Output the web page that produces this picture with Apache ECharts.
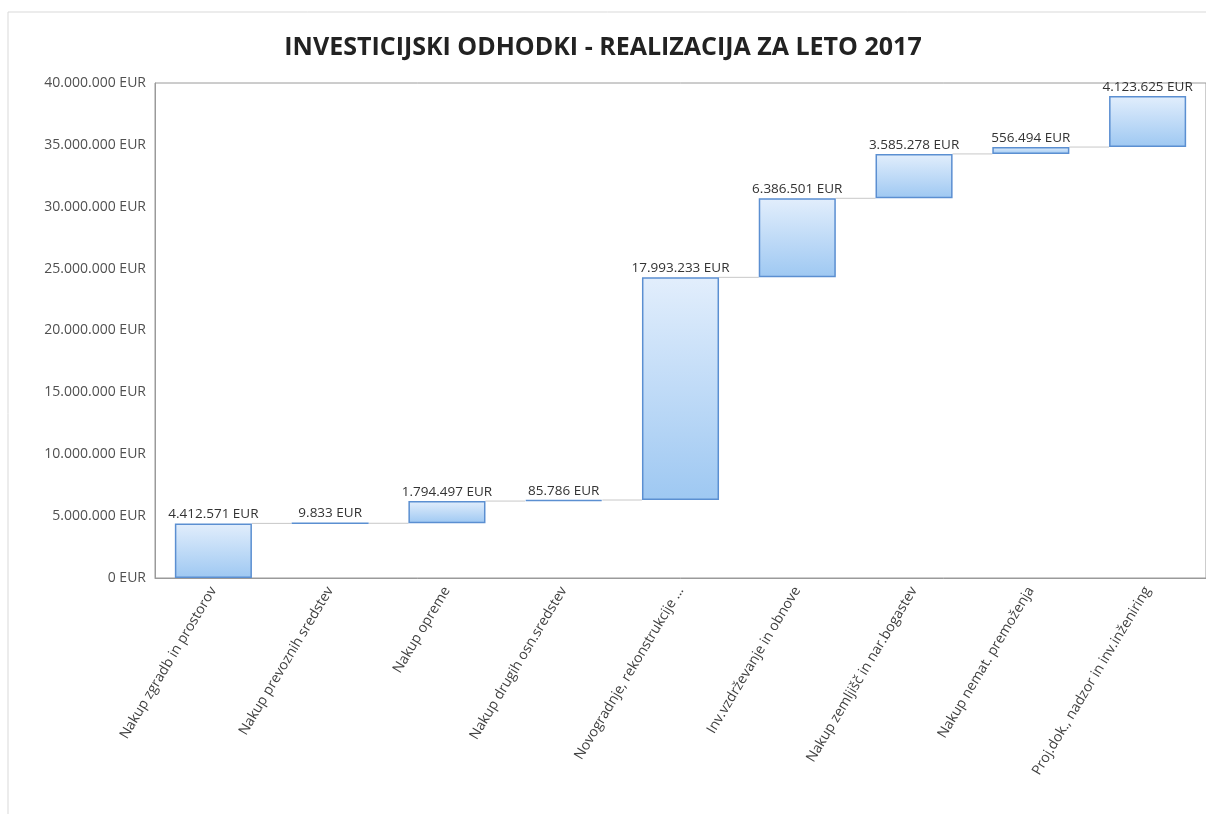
<!DOCTYPE html>
<html><head><meta charset="utf-8">
<script src="https://cdn.jsdelivr.net/npm/echarts@6/dist/echarts.min.js"></script>
<style>html,body{margin:0;padding:0;background:#fff}#c{width:1206px;height:814px}</style>
</head><body><div id="c"></div>
<script>
const categories = ["Nakup zgradb in prostorov","Nakup prevoznih sredstev","Nakup opreme","Nakup drugih osn.sredstev","Novogradnje, rekonstrukcije ...","Inv.vzdrževanje in obnove","Nakup zemljišč in nar.bogastev","Nakup nemat. premoženja","Proj.dok., nadzor in inv.inženiring"];
const values = [4412571, 9833, 1794497, 85786, 17993233, 6386501, 3585278, 556494, 4123625];
const yTicks = [0, 5000000, 10000000, 15000000, 20000000, 25000000, 30000000, 35000000, 40000000];

const fmt = v => String(Math.round(v)).replace(/\B(?=(\d{3})+(?!\d))/g, '.') + ' EUR';
const base = [], tops = [];
let acc = 0;
values.forEach(v => { base.push(acc); acc += v; tops.push(acc); });

const chart = echarts.init(document.getElementById('c'));
chart.setOption({
  animation: false,
  title: { text: 'INVESTICIJSKI ODHODKI - REALIZACIJA ZA LETO 2017', left: 'center', top: 30,
    textStyle: { fontFamily: 'Open Sans', fontSize: 25, fontWeight: 'bold', color: '#222' } },
  graphic: [{ type: 'rect', shape: { x: 8, y: 12, width: 1300, height: 900 }, style: { fill: 'none', stroke: '#d9d9d9', lineWidth: 1 }, silent: true }],
  grid: { left: 155, right: -2, top: 83, bottom: 236, show: true, borderColor: '#9a9a9a', borderWidth: 1 },
  xAxis: { type: 'category', data: categories,
    axisLine: { lineStyle: { color: '#9a9a9a' } }, axisTick: { show: false },
    axisLabel: { interval: 0, rotate: 59, color: '#404040', fontFamily: 'Open Sans', fontSize: 14, margin: 10 } },
  yAxis: { type: 'value', min: yTicks[0], max: yTicks[yTicks.length-1], interval: 5000000,
    axisLine: { show: true, lineStyle: { color: '#9a9a9a' } }, axisTick: { show: false },
    splitLine: { show: false },
    axisLabel: { color: '#505050', fontFamily: 'Open Sans', fontSize: 14, formatter: v => fmt(v), margin: 9 } },
  series: [
    { type: 'bar', stack: 'w', data: base, itemStyle: { color: 'transparent' }, barWidth: '66%', silent: true },
    { type: 'bar', stack: 'w', data: values, barWidth: '66%',
      itemStyle: { borderColor: '#5b8fd1', borderWidth: 1.5,
        color: new echarts.graphic.LinearGradient(0,0,0,1,[{offset:0,color:'#e2eefc'},{offset:1,color:'#9ec8f2'}]) },
      label: { show: true, position: 'top', distance: 2, formatter: p => fmt(p.value), color: '#333', fontFamily: 'Open Sans', fontSize: 13.5 } },
    { type: 'custom', data: tops.slice(0, -1).map((t, i) => [i, t]), silent: true, z: 1,
      renderItem: (params, api) => {
        const i = api.value(0), t = api.value(1);
        const p1 = api.coord([i, t]), p2 = api.coord([i + 1, t]);
        const w = api.size([1, 0])[0] * 0.33;
        return { type: 'line', shape: { x1: p1[0] + w, y1: p1[1], x2: p2[0] - w, y2: p2[1] },
          style: { stroke: '#c8c8c8', lineWidth: 1 } };
      } }
  ]
});
</script></body></html>
